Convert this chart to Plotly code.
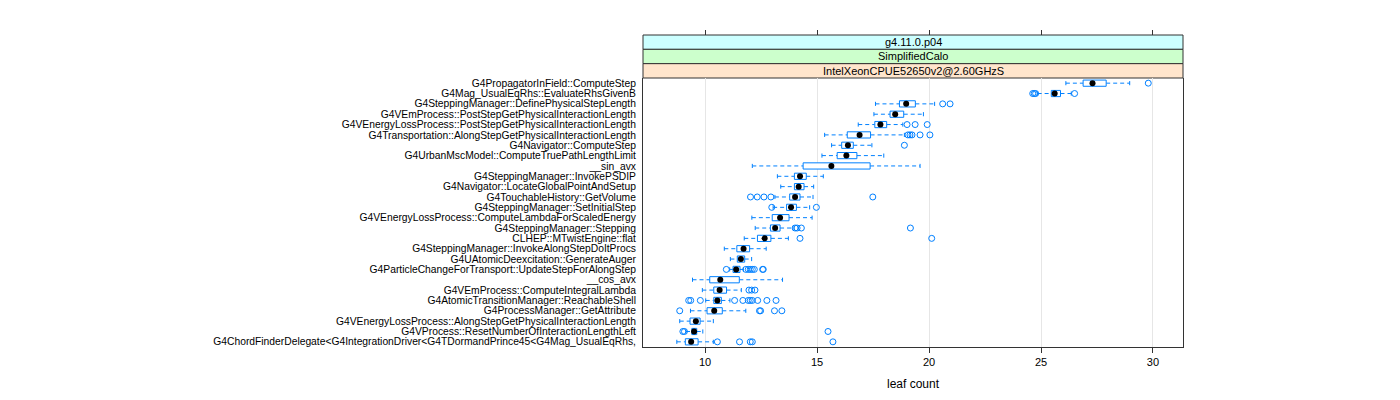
import plotly.graph_objects as go

categories = [
    "G4PropagatorInField::ComputeStep",
    "G4Mag_UsualEqRhs::EvaluateRhsGivenB",
    "G4SteppingManager::DefinePhysicalStepLength",
    "G4VEmProcess::PostStepGetPhysicalInteractionLength",
    "G4VEnergyLossProcess::PostStepGetPhysicalInteractionLength",
    "G4Transportation::AlongStepGetPhysicalInteractionLength",
    "G4Navigator::ComputeStep",
    "G4UrbanMscModel::ComputeTruePathLengthLimit",
    "__sin_avx",
    "G4SteppingManager::InvokePSDIP",
    "G4Navigator::LocateGlobalPointAndSetup",
    "G4TouchableHistory::GetVolume",
    "G4SteppingManager::SetInitialStep",
    "G4VEnergyLossProcess::ComputeLambdaForScaledEnergy",
    "G4SteppingManager::Stepping",
    "CLHEP::MTwistEngine::flat",
    "G4SteppingManager::InvokeAlongStepDoItProcs",
    "G4UAtomicDeexcitation::GenerateAuger",
    "G4ParticleChangeForTransport::UpdateStepForAlongStep",
    "__cos_avx",
    "G4VEmProcess::ComputeIntegralLambda",
    "G4AtomicTransitionManager::ReachableShell",
    "G4ProcessManager::GetAttribute",
    "G4VEnergyLossProcess::AlongStepGetPhysicalInteractionLength",
    "G4VProcess::ResetNumberOfInteractionLengthLeft",
    "G4ChordFinderDelegate<G4IntegrationDriver<G4TDormandPrince45<G4Mag_UsualEqRhs,",
]

whisker_lo = [26.11, 24.85, 17.61, 17.54, 16.84, 15.34, 15.65, 15.22, 12.11, 13.23, 13.38, 13.12, 13.04,
              12.09, 12.24, 11.75, 10.86, 11.13, 11.10, 9.44, 9.88, 10.03, 9.35, 8.87, 9.15, 8.74]
q1 = [26.88, 25.46, 18.68, 18.26, 17.58, 16.35, 16.10, 15.90, 14.38, 13.99, 13.99, 13.78, 13.64,
      13.00, 12.92, 12.34, 11.42, 11.44, 11.25, 10.21, 10.39, 10.39, 10.09, 9.33, 9.41, 9.12]
median = [27.30, 25.61, 18.98, 18.49, 17.83, 16.90, 16.38, 16.31, 15.64, 14.24, 14.18, 14.02, 13.84,
          13.35, 13.13, 12.66, 11.72, 11.60, 11.39, 10.68, 10.65, 10.55, 10.41, 9.59, 9.51, 9.38]
q3 = [27.91, 25.87, 19.39, 18.87, 18.11, 17.39, 16.62, 16.78, 17.37, 14.52, 14.42, 14.24, 14.08,
      13.75, 13.35, 12.94, 11.99, 11.77, 11.56, 11.53, 10.96, 10.73, 10.77, 9.78, 9.63, 9.69]
whisker_hi = [28.96, 26.35, 20.25, 19.75, 18.83, 18.90, 17.45, 17.98, 19.60, 15.28, 14.85, 14.82, 14.67,
              14.78, 13.93, 13.72, 12.73, 12.08, 11.71, 13.46, 11.62, 11.11, 11.82, 10.37, 9.90, 10.37]
outliers = [
    [29.79],
    [24.63, 24.70, 24.76, 26.50],
    [20.61, 20.94],
    [],
    [19.02, 19.38, 19.92],
    [19.06, 19.15, 19.24, 19.60, 20.04],
    [18.90],
    [],
    [],
    [],
    [],
    [12.03, 12.33, 12.63, 12.94, 17.49],
    [12.98, 14.97],
    [],
    [14.02, 14.11, 14.30, 19.17],
    [14.24, 20.12],
    [],
    [],
    [10.95, 11.82, 11.93, 12.02, 12.11, 12.20, 12.57, 12.60],
    [],
    [11.96, 12.08, 12.23],
    [9.27, 9.36, 9.79, 11.32, 11.69, 11.93, 12.02, 12.11, 12.35, 12.76, 13.17],
    [8.87, 12.43, 12.48, 13.10, 13.43],
    [],
    [9.01, 9.08, 15.49],
    [10.55, 11.54, 12.02, 12.11, 15.71],
]

strip_labels = ["g4.11.0.p04", "SimplifiedCalo", "IntelXeonCPUE52650v2@2.60GHzS"]
strip_colors = ["#ccffff", "#ccffcc", "#ffe5cc"]
x_ticks = [10, 15, 20, 25, 30]
x_title = "leaf count"

BLUE = "#0080ff"
n = len(categories)
ypos = [n - 1 - i for i in range(n)]
BH = 0.3   # box half height
CH = 0.2   # whisker cap half height

wx, wy, cx, cy, bx, by = [], [], [], [], [], []
for i in range(n):
    y = ypos[i]
    wx += [whisker_lo[i], q1[i], None, q3[i], whisker_hi[i], None]
    wy += [y, y, None, y, y, None]
    cx += [whisker_lo[i], whisker_lo[i], None, whisker_hi[i], whisker_hi[i], None]
    cy += [y - CH, y + CH, None, y - CH, y + CH, None]
    bx += [q1[i], q3[i], q3[i], q1[i], q1[i], None]
    by += [y - BH, y - BH, y + BH, y + BH, y - BH, None]

ox, oy = [], []
for i in range(n):
    for v in outliers[i]:
        ox.append(v)
        oy.append(ypos[i])

fig = go.Figure()
fig.add_trace(go.Scatter(x=wx, y=wy, mode="lines", line=dict(color=BLUE, width=1, dash="4px,3px"),
                         hoverinfo="skip", showlegend=False))
fig.add_trace(go.Scatter(x=cx, y=cy, mode="lines", line=dict(color=BLUE, width=1),
                         hoverinfo="skip", showlegend=False))
fig.add_trace(go.Scatter(x=bx, y=by, mode="lines", fill="toself", fillcolor="white",
                         line=dict(color=BLUE, width=1), hoverinfo="skip", showlegend=False))
fig.add_trace(go.Scatter(x=ox, y=oy, mode="markers",
                         marker=dict(symbol="circle-open", size=6, color=BLUE, line=dict(width=1)),
                         showlegend=False))
fig.add_trace(go.Scatter(x=median, y=ypos, mode="markers",
                         marker=dict(symbol="circle", size=6, color="black"), showlegend=False))
# top ticks axis (dummy trace)
fig.add_trace(go.Scatter(x=[x_ticks[0]], y=[0], xaxis="x2", mode="markers",
                         marker=dict(opacity=0), hoverinfo="skip", showlegend=False))

XR = [7.23, 31.34]
panel_top = 269 / 312.0
fig.update_layout(
    width=1392, height=392,
    margin=dict(l=635, r=217, t=27, b=53),
    plot_bgcolor="white", paper_bgcolor="white",
    font=dict(family="Liberation Sans, Arial, sans-serif", size=10, color="black"),
    xaxis=dict(range=XR, tickvals=x_ticks, ticks="outside", ticklen=5, tickcolor="#333",
               showline=True, linecolor="#333", linewidth=1, mirror=False,
               showgrid=True, gridcolor="#e6e6e6", zeroline=False,
               tickfont=dict(size=11), title=dict(text=x_title, font=dict(size=12), standoff=12),
               anchor="y"),
    xaxis2=dict(range=XR, tickvals=x_ticks, ticks="outside", ticklen=5, tickcolor="#333",
                showticklabels=False, showline=False, showgrid=False, zeroline=False,
                overlaying="x", side="top", anchor="free", position=1),
    yaxis=dict(range=[-0.5, n - 0.5], tickvals=ypos, ticktext=categories, ticks="",
               showline=True, linecolor="#333", linewidth=1, mirror=True,
               showgrid=False, zeroline=False, domain=[0, panel_top], tickfont=dict(size=10.3),
               ticklabelstandoff=4),
)

sh = (1 - panel_top) / 3.0
shapes = []
annotations = []
for k, (lab, col) in enumerate(zip(strip_labels, strip_colors)):
    y1 = 1 - k * sh
    y0 = y1 - sh
    shapes.append(dict(type="rect", xref="paper", yref="paper", x0=0, x1=1, y0=y0, y1=y1,
                       fillcolor=col, line=dict(color="#333", width=1), layer="below"))
    annotations.append(dict(xref="paper", yref="paper", x=0.5, y=(y0 + y1) / 2, text=lab,
                            showarrow=False, font=dict(size=11), xanchor="center", yanchor="middle"))
fig.update_layout(shapes=shapes, annotations=annotations)

fig.write_html("out.html")
